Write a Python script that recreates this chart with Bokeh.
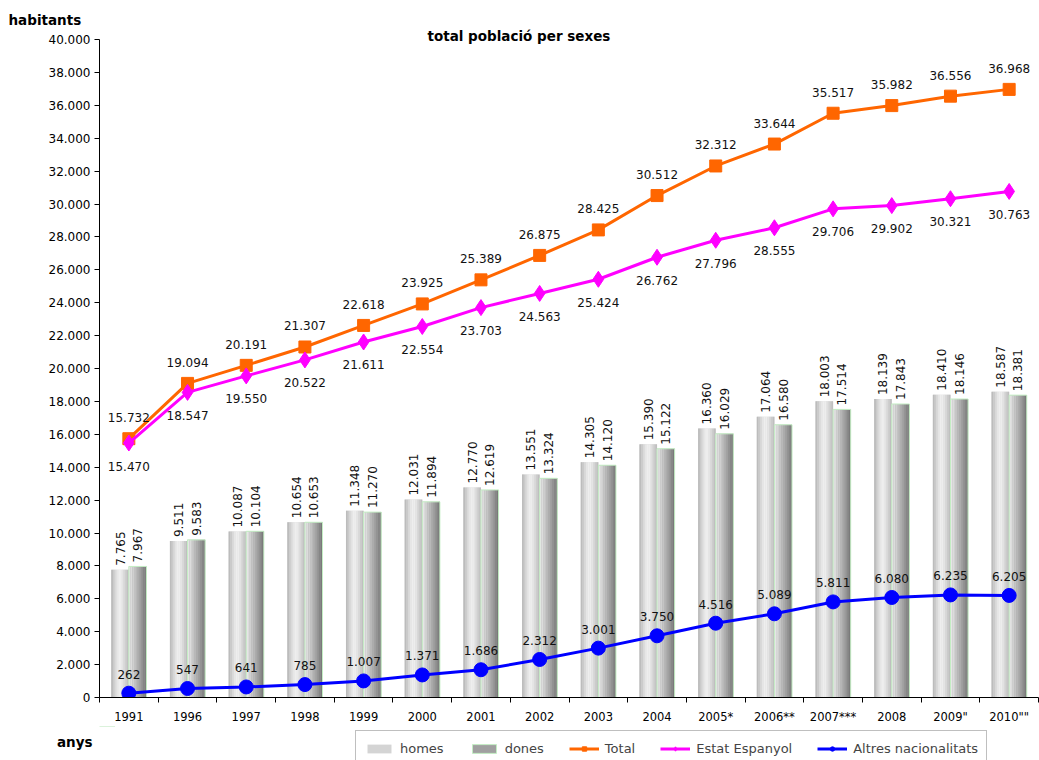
from bokeh.plotting import figure
from bokeh.layouts import column
from bokeh.models import (Range1d, FixedTicker, Title, Legend, LegendItem)
from bokeh.core.properties import value
from bokeh.embed import file_html
from bokeh.resources import INLINE
import math

years = ["1991", "1996", "1997", "1998", "1999", "2000", "2001", "2002", "2003", "2004",
         "2005*", "2006**", "2007***", "2008", "2009\"", "2010\"\""]
homes = [7765, 9511, 10087, 10654, 11348, 12031, 12770, 13551, 14305, 15390,
         16360, 17064, 18003, 18139, 18410, 18587]
dones = [7967, 9583, 10104, 10653, 11270, 11894, 12619, 13324, 14120, 15122,
         16029, 16580, 17514, 17843, 18146, 18381]
total = [15732, 19094, 20191, 21307, 22618, 23925, 25389, 26875, 28425, 30512,
         32312, 33644, 35517, 35982, 36556, 36968]
estat = [15470, 18547, 19550, 20522, 21611, 22554, 23703, 24563, 25424, 26762,
         27796, 28555, 29706, 29902, 30321, 30763]
altres = [262, 547, 641, 785, 1007, 1371, 1686, 2312, 3001, 3750,
          4516, 5089, 5811, 6080, 6235, 6205]
y_ticks = list(range(0, 40001, 2000))

homes_shades = ["#bcbcbc", "#cacaca", "#d9d9d9", "#e6e6e6", "#eeeeee",
                "#ededed", "#e4e4e4", "#d8d8d8", "#cbcbcb", "#bfbfbf"]
dones_shades = ["#e6e6e6", "#dcdcdc", "#d0d0d0", "#c4c4c4", "#b8b8b8",
                "#acacac", "#a0a0a0", "#939393", "#868686", "#7a7a7a"]

C_TOT, C_EST, C_ALT = "#ff6600", "#ff00ff", "#0000ff"


def fmt(v):
    return f"{v:,}".replace(",", ".")


idx = list(range(len(years)))
FONT = "DejaVu Sans"

# ---------------- main chart ----------------
p = figure(width=1039, height=726, output_backend="svg", toolbar_location=None,
           x_range=Range1d(-0.5, 15.5), y_range=Range1d(0, 40000),
           min_border_left=99, min_border_right=1, min_border_top=39, min_border_bottom=29)
p.outline_line_color = None
p.xgrid.grid_line_color = None
p.ygrid.grid_line_color = None

BW = 0.3
n = len(homes_shades)
sw = BW / n
p.vbar(x=[i - BW / 2 for i in idx], top=homes, width=BW, bottom=0,
       fill_color="#d8d8d8", line_color=None)
for k, c in enumerate(homes_shades):
    p.vbar(x=[i - BW + sw * (k + 0.5) for i in idx], top=homes, width=sw * 1.02,
           fill_color=c, line_color=None)
p.vbar(x=[i + BW / 2 for i in idx], top=dones, width=BW, bottom=0,
       fill_color="#a8a8a8", line_color=None)
for k, c in enumerate(dones_shades):
    p.vbar(x=[i + sw * (k + 0.5) for i in idx], top=dones, width=sw * 1.02,
           fill_color=c, line_color=None)
p.vbar(x=[i + BW / 2 for i in idx], top=dones, width=BW, bottom=0,
       fill_color=None, line_color="#c4eec4", line_width=1)

p.text(x=[i - BW / 2 for i in idx], y=homes, text=[fmt(v) for v in homes],
       angle=math.pi / 2, text_align="left", text_baseline="middle", y_offset=-4,
       text_font=value(FONT), text_font_size="12px", text_color="#111111")
p.text(x=[i + BW / 2 for i in idx], y=dones, text=[fmt(v) for v in dones],
       angle=math.pi / 2, text_align="left", text_baseline="middle", y_offset=-4,
       text_font=value(FONT), text_font_size="12px", text_color="#111111")

p.line(idx, total, line_color=C_TOT, line_width=3)
p.scatter(idx, total, marker="square", size=12, fill_color=C_TOT, line_color=C_TOT)
p.line(idx, estat, line_color=C_EST, line_width=3)
p.scatter(idx, estat, marker="diamond", size=16, fill_color=C_EST, line_color=C_EST)
p.line(idx, altres, line_color=C_ALT, line_width=3)
p.scatter(idx, altres, marker="circle", size=14, fill_color=C_ALT, line_color=C_ALT)

p.text(x=idx, y=total, text=[fmt(v) for v in total], text_align="center", text_baseline="middle",
       y_offset=-21, text_font=value(FONT), text_font_size="12px", text_color="#111111")
p.text(x=idx, y=estat, text=[fmt(v) for v in estat], text_align="center", text_baseline="middle",
       y_offset=23, text_font=value(FONT), text_font_size="12px", text_color="#111111")
p.text(x=idx, y=altres, text=[fmt(v) for v in altres], text_align="center", text_baseline="middle",
       y_offset=-19, text_font=value(FONT), text_font_size="12px", text_color="#111111")

xa = p.xaxis[0]
xa.ticker = FixedTicker(ticks=idx, minor_ticks=[i - 0.5 for i in range(len(years) + 1)])
xa.major_label_overrides = {i: y for i, y in enumerate(years)}
xa.major_tick_line_color = None
xa.major_tick_out = 5
xa.major_tick_in = 0
xa.minor_tick_out = 5
xa.minor_tick_in = 0
xa.minor_tick_line_color = "black"
xa.major_label_standoff = 7
xa.axis_line_color = "black"
xa.major_label_text_font_size = "11.5px"

ya = p.yaxis[0]
ya.ticker = FixedTicker(ticks=y_ticks, minor_ticks=[])
ya.major_label_overrides = {v: fmt(v) for v in y_ticks}
ya.major_tick_out = 5
ya.major_tick_in = 0
ya.major_label_standoff = 4
ya.axis_line_color = "black"
ya.major_tick_line_color = "black"
ya.major_label_text_font_size = "12px"

for ax in (xa, ya):
    ax.major_label_text_font = FONT
    ax.major_label_text_color = "black"

t_main = Title(text="total població per sexes", align="left", offset=328, standoff=0,
               text_font=FONT, text_font_size="13.5px", text_font_style="bold", text_color="black")
try:
    t_main.standoff = -8
except Exception:
    pass
t_hab = Title(text="habitants", align="left", offset=-91, standoff=3,
              text_font=FONT, text_font_size="13.5px", text_font_style="bold", text_color="black")
p.add_layout(t_main, "above")
p.add_layout(t_hab, "above")

# ---------------- bottom strip: "anys" + legend ----------------
q = figure(width=1039, height=34, output_backend="svg", toolbar_location=None,
           x_axis_type=None,
           x_range=Range1d(0, 940), y_range=Range1d(0, 34),
           min_border_left=99, min_border_right=1, min_border_top=0, min_border_bottom=0)
try:
    q.title_location = None
except Exception:
    pass
q.outline_line_color = None
q.xgrid.grid_line_color = None
q.ygrid.grid_line_color = None

qa = q.yaxis[0]
qa.ticker = FixedTicker(ticks=[33.9], minor_ticks=[])
qa.major_label_overrides = {33.9: "anys"}
qa.axis_line_color = None
qa.major_tick_line_color = None
qa.major_tick_out = 0
qa.major_tick_in = 0
qa.major_label_standoff = 7
qa.major_label_text_font = FONT
qa.major_label_text_font_size = "13.5px"
qa.major_label_text_font_style = "bold"
qa.major_label_text_color = "black"
qa.major_label_text_baseline = "bottom"

# legend sample renderers: real series, lying outside this strip's visible range
r_h = q.vbar(x=idx, bottom=homes, top=homes, width=0.3, fill_color="#d4d4d4", line_color=None)
r_d = q.vbar(x=idx, bottom=dones, top=dones, width=0.3, fill_color="#a0a0a0",
             line_color="#c4eec4", line_width=1)
r_tl = q.line(idx, total, line_color=C_TOT, line_width=3)
r_tm = q.scatter(idx, total, marker="square", size=11, fill_color=C_TOT, line_color=C_TOT)
r_el = q.line(idx, estat, line_color=C_EST, line_width=3)
r_em = q.scatter(idx, estat, marker="diamond", size=14, fill_color=C_EST, line_color=C_EST)
r_al = q.line(idx, altres, line_color=C_ALT, line_width=3)
r_am = q.scatter(idx, altres, marker="circle", size=12, fill_color=C_ALT, line_color=C_ALT)

legend = Legend(items=[
    LegendItem(label="homes", renderers=[r_h]),
    LegendItem(label="dones", renderers=[r_d]),
    LegendItem(label="Total", renderers=[r_tl, r_tm]),
    LegendItem(label="Estat Espanyol", renderers=[r_el, r_em]),
    LegendItem(label="Altres nacionalitats", renderers=[r_al, r_am]),
], orientation="horizontal", location=(256, -6))
legend.label_text_font = FONT
legend.label_text_font_size = "13px"
legend.label_standoff = 6
legend.label_height = 18
legend.glyph_width = 30
legend.glyph_height = 11
legend.spacing = 25
legend.padding = 8
legend.margin = 0
legend.border_line_color = "#808080"
legend.border_line_width = 1
legend.background_fill_color = "white"
q.add_layout(legend, "center")

layout = column(p, q, spacing=0)
open("out.html", "w").write(file_html(layout, INLINE))
